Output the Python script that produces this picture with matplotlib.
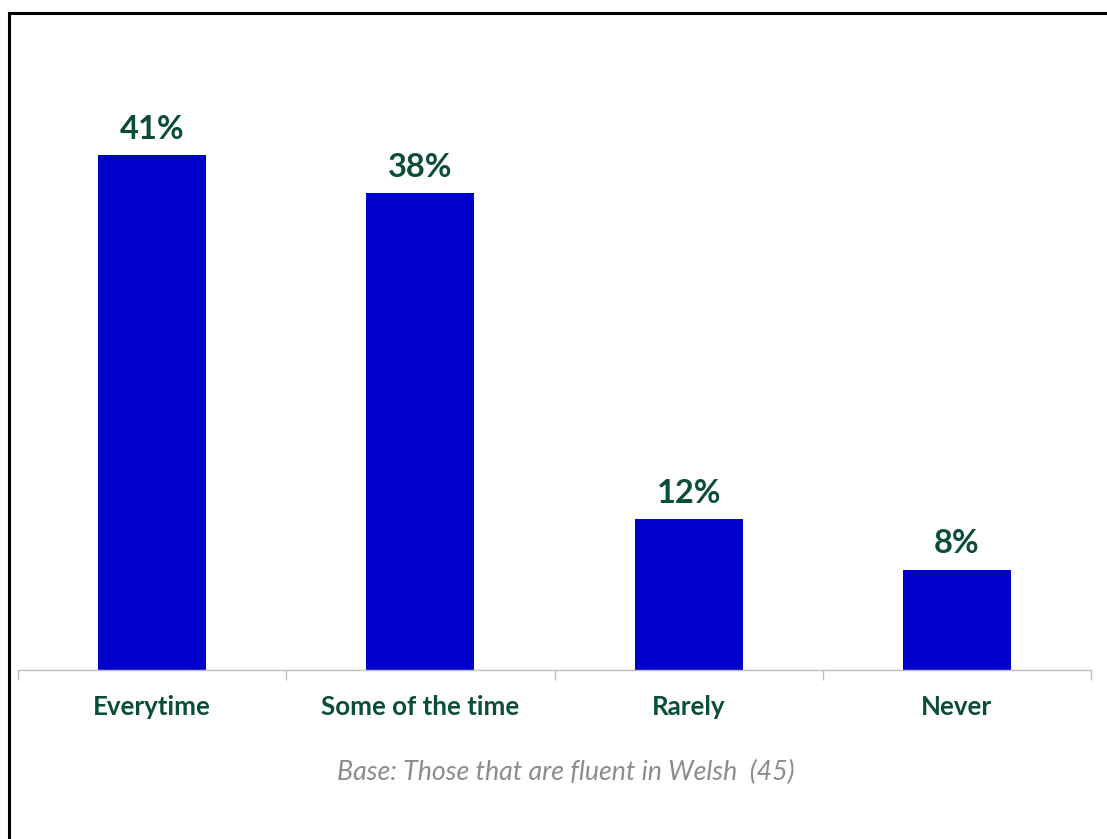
import matplotlib
matplotlib.use("Agg")
import matplotlib.pyplot as plt
from matplotlib.lines import Line2D

categories = ["Everytime", "Some of the time", "Rarely", "Never"]
values = [41, 38, 12, 8]
value_labels = ["41%", "38%", "12%", "8%"]
caption = "Base: Those that are fluent in Welsh  (45)"

W, H = 1107, 839
fig = plt.figure(figsize=(W / 100, H / 100), dpi=100)
fig.patch.set_facecolor("white")

plt.rcParams["font.family"] = ["Lato", "DejaVu Sans"]

bar_color = "#0000CC"
text_green = "#0A4D3A"

# plot area in pixel terms
x0, x1 = 18, 1091
y_base, y_top = 670, 20
ax = fig.add_axes([x0 / W, (H - y_base) / H, (x1 - x0) / W, (y_base - y_top) / H])
px_per_unit = 12.56
ax.set_ylim(0, (y_base - y_top) / px_per_unit)
ax.set_xlim(-0.5, len(categories) - 0.5)

xs = range(len(categories))
ax.bar(xs, values, width=0.403, color=bar_color, zorder=2)

for x, v, lab in zip(xs, values, value_labels):
    ax.annotate(lab, (x, v), xytext=(0, 8), textcoords="offset points",
                ha="center", va="bottom", fontsize=23.5, fontweight="bold",
                color=text_green)

for s in ["top", "right", "left"]:
    ax.spines[s].set_visible(False)
ax.spines["bottom"].set_color("#BFBFBF")
ax.spines["bottom"].set_linewidth(1.0)
ax.set_yticks([])

# category boundary ticks
ax.set_xticks([i - 0.5 for i in range(len(categories) + 1)], minor=False)
ax.set_xticklabels([])
ax.tick_params(axis="x", length=7, color="#BFBFBF", width=1.0, direction="out")
for x, c in zip(xs, categories):
    ax.text(x, -2.95, c, ha="center", va="center", fontsize=18.6,
            fontweight="bold", color=text_green)

fig.text(566 / W, 1 - 772 / H, caption, ha="center", va="center",
         fontsize=19.3, fontstyle="italic", color="#8C8C8C")

# outer frame (top and left edges)
fig.add_artist(Line2D([8.5 / W, 1.0], [1 - 12.5 / H] * 2, color="black", lw=2.2,
                      transform=fig.transFigure))
fig.add_artist(Line2D([8.5 / W] * 2, [1 - 12.5 / H, 0], color="black", lw=2.2,
                      transform=fig.transFigure))

fig.savefig("out.png", dpi=100)
